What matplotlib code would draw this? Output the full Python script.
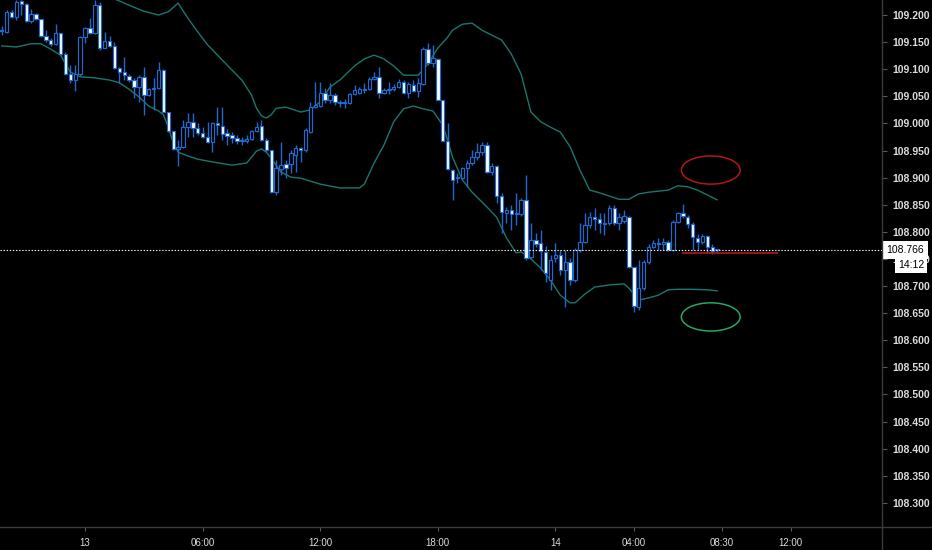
#! /usr/bin/env python3
# -*- Coding: UTF-8 -*-

import numpy as np
import matplotlib.pyplot as plt
import matplotlib.transforms as mtransforms
from matplotlib.patches import Ellipse
from matplotlib.lines import Line2D

plt.rcParams["font.family"] = ["Liberation Sans", "DejaVu Sans"]

# 15 minute bars, x = bar number counted from 13th 00:00 (4 bars per hour)
first_bar = -17

opens = [
    109.172, 109.169, 109.206, 109.196, 109.226, 109.220, 109.189, 109.202, 109.193, 109.161,
    109.154, 109.147, 109.167, 109.128, 109.091, 109.080, 109.091, 109.159, 109.176, 109.167,
    109.218, 109.139, 109.152, 109.143, 109.102, 109.095, 109.087, 109.080, 109.067, 109.086,
    109.052, 109.063, 109.065, 109.099, 109.021, 108.986, 108.953, 108.957, 108.993, 109.003,
    108.992, 108.982, 108.975, 108.966, 109.001, 108.995, 108.982, 108.979, 108.973, 108.968,
    108.968, 108.971, 108.986, 108.995, 108.969, 108.951, 108.873, 108.916, 108.925, 108.925,
    108.942, 108.955, 108.951, 108.984, 109.030, 109.032, 109.056, 109.043, 109.052, 109.038,
    109.037, 109.038, 109.054, 109.056, 109.062, 109.063, 109.082, 109.086, 109.056, 109.062,
    109.063, 109.067, 109.076, 109.056, 109.071, 109.060, 109.073, 109.137, 109.111, 109.119,
    109.043, 108.968, 108.914, 108.899, 108.899, 108.918, 108.927, 108.938, 108.947, 108.960,
    108.910, 108.921, 108.866, 108.835, 108.840, 108.833, 108.833, 108.859, 108.754, 108.785,
    108.779, 108.763, 108.711, 108.752, 108.757, 108.730, 108.744, 108.711, 108.766, 108.781,
    108.813, 108.827, 108.824, 108.815, 108.816, 108.844, 108.816, 108.820, 108.827, 108.735,
    108.661, 108.696, 108.744, 108.772, 108.779, 108.778, 108.781, 108.766, 108.818, 108.835,
    108.827, 108.814, 108.789, 108.781, 108.792, 108.772, 108.768,
]
highs = [
    109.180, 109.209, 109.209, 109.228, 109.228, 109.222, 109.211, 109.204, 109.193, 109.172,
    109.158, 109.183, 109.167, 109.132, 109.108, 109.108, 109.161, 109.178, 109.194, 109.228,
    109.224, 109.169, 109.161, 109.150, 109.104, 109.123, 109.091, 109.084, 109.089, 109.104,
    109.065, 109.084, 109.113, 109.100, 109.021, 108.986, 108.969, 109.006, 109.019, 109.019,
    109.001, 108.993, 109.003, 109.003, 109.030, 109.030, 108.990, 108.984, 108.979, 108.975,
    108.979, 108.988, 109.003, 109.006, 108.973, 108.951, 108.933, 108.966, 108.933, 108.951,
    108.960, 108.957, 108.992, 109.039, 109.076, 109.076, 109.065, 109.075, 109.056, 109.043,
    109.045, 109.056, 109.071, 109.067, 109.075, 109.086, 109.095, 109.104, 109.065, 109.076,
    109.073, 109.082, 109.080, 109.076, 109.080, 109.084, 109.141, 109.148, 109.145, 109.121,
    109.043, 109.001, 108.916, 108.909, 108.920, 108.933, 108.951, 108.964, 108.966, 108.966,
    108.927, 108.923, 108.872, 108.846, 108.849, 108.872, 108.862, 108.905, 108.816, 108.798,
    108.803, 108.774, 108.757, 108.779, 108.766, 108.766, 108.752, 108.770, 108.816, 108.835,
    108.837, 108.844, 108.835, 108.835, 108.849, 108.849, 108.835, 108.840, 108.829, 108.735,
    108.748, 108.748, 108.778, 108.785, 108.789, 108.789, 108.785, 108.822, 108.837, 108.851,
    108.831, 108.818, 108.796, 108.796, 108.794, 108.778, 108.768,
]
lows = [
    109.163, 109.167, 109.194, 109.191, 109.200, 109.187, 109.185, 109.191, 109.159, 109.150,
    109.143, 109.145, 109.126, 109.089, 109.075, 109.060, 109.087, 109.148, 109.165, 109.165,
    109.135, 109.139, 109.141, 109.100, 109.075, 109.080, 109.076, 109.047, 109.039, 109.016,
    109.051, 109.025, 109.063, 109.021, 108.984, 108.951, 108.921, 108.955, 108.975, 108.975,
    108.979, 108.973, 108.964, 108.947, 108.979, 108.969, 108.960, 108.964, 108.962, 108.960,
    108.964, 108.969, 108.984, 108.968, 108.947, 108.872, 108.868, 108.905, 108.899, 108.909,
    108.910, 108.929, 108.947, 108.982, 109.028, 109.030, 109.038, 109.038, 109.034, 109.030,
    109.028, 109.036, 109.052, 109.054, 109.056, 109.062, 109.080, 109.047, 109.054, 109.054,
    109.060, 109.065, 109.054, 109.047, 109.058, 109.049, 109.071, 109.108, 109.104, 109.043,
    108.968, 108.914, 108.859, 108.890, 108.896, 108.883, 108.923, 108.933, 108.942, 108.909,
    108.905, 108.853, 108.798, 108.816, 108.803, 108.813, 108.829, 108.748, 108.752, 108.772,
    108.730, 108.707, 108.693, 108.744, 108.720, 108.661, 108.702, 108.707, 108.763, 108.779,
    108.807, 108.803, 108.798, 108.794, 108.813, 108.813, 108.803, 108.816, 108.733, 108.652,
    108.656, 108.693, 108.741, 108.770, 108.766, 108.766, 108.765, 108.765, 108.816, 108.826,
    108.807, 108.766, 108.766, 108.778, 108.761, 108.759, 108.763,
]
closes = [
    109.171, 109.206, 109.196, 109.224, 109.220, 109.189, 109.202, 109.193, 109.161, 109.154,
    109.147, 109.167, 109.128, 109.091, 109.080, 109.091, 109.159, 109.176, 109.167, 109.218,
    109.139, 109.152, 109.143, 109.102, 109.095, 109.089, 109.080, 109.067, 109.086, 109.052,
    109.063, 109.065, 109.099, 109.021, 108.986, 108.953, 108.957, 108.993, 109.003, 108.992,
    108.982, 108.975, 108.966, 109.001, 108.997, 108.980, 108.977, 108.973, 108.968, 108.969,
    108.971, 108.986, 108.993, 108.969, 108.951, 108.873, 108.918, 108.923, 108.918, 108.945,
    108.955, 108.951, 108.988, 109.030, 109.034, 109.056, 109.043, 109.052, 109.039, 109.040,
    109.040, 109.054, 109.062, 109.063, 109.063, 109.082, 109.086, 109.056, 109.062, 109.063,
    109.067, 109.076, 109.056, 109.073, 109.060, 109.075, 109.137, 109.111, 109.121, 109.043,
    108.968, 108.916, 108.896, 108.901, 108.918, 108.927, 108.938, 108.947, 108.960, 108.910,
    108.921, 108.866, 108.837, 108.840, 108.833, 108.835, 108.859, 108.752, 108.785, 108.778,
    108.765, 108.724, 108.748, 108.757, 108.730, 108.744, 108.711, 108.766, 108.781, 108.813,
    108.827, 108.824, 108.816, 108.817, 108.844, 108.816, 108.827, 108.829, 108.735, 108.663,
    108.696, 108.744, 108.772, 108.779, 108.778, 108.781, 108.766, 108.818, 108.835, 108.829,
    108.814, 108.790, 108.781, 108.792, 108.772, 108.765, 108.766,
]

# bollinger bands (bar number, price)
upper_bar = [-17, -12, -8, -4, 0, 4, 7, 9, 12, 15, 17, 19, 21, 23, 25, 28, 32, 34, 35, 36,
             37, 38, 39, 41, 44, 46, 48, 50, 52, 55, 57, 59, 61, 63, 65, 68, 70, 72, 74, 75,
             77, 79, 81, 83, 85, 87, 89, 90, 91, 93, 95, 97, 99, 101, 103, 105, 107, 109, 111,
             113, 115, 117, 119, 121, 123, 125, 127, 129]
upper_val = [109.276, 109.272, 109.268, 109.261, 109.250, 109.237, 109.226, 109.218, 109.207,
             109.200, 109.206, 109.222, 109.194, 109.169, 109.145, 109.117, 109.080, 109.052,
             109.028, 109.014, 109.010, 109.016, 109.028, 109.030, 109.021, 109.025, 109.040,
             109.067, 109.080, 109.106, 109.119, 109.126, 109.119, 109.106, 109.089, 109.089,
             109.110, 109.139, 109.159, 109.172, 109.183, 109.185, 109.172, 109.163, 109.154,
             109.128, 109.091, 109.056, 109.021, 109.003, 108.993, 108.984, 108.957, 108.914,
             108.877, 108.872, 108.866, 108.860, 108.860, 108.870, 108.873, 108.875, 108.877,
             108.885, 108.883, 108.877, 108.868, 108.859]
lower_bar = [-17, -14, -11, -9, -7, -5, -3, -1, 2, 5, 7, 9, 11, 13, 15, 16, 17, 18, 19, 21,
             23, 26, 30, 33, 35, 36, 37, 38, 40, 42, 44, 48, 52, 56, 57, 59, 61, 63, 65, 67,
             69, 71, 73, 74, 75, 77, 79, 82, 84, 86, 88, 89, 91, 93, 95, 97, 99, 100, 102, 104,
             107, 110, 111, 113, 115, 117, 119, 121, 124, 127, 129]
lower_val = [109.143, 109.141, 109.147, 109.147, 109.137, 109.126, 109.095, 109.086, 109.084,
             109.080, 109.075, 109.063, 109.049, 109.032, 109.023, 109.016, 108.993, 108.964,
             108.947, 108.940, 108.934, 108.929, 108.923, 108.927, 108.949, 108.953, 108.947,
             108.936, 108.910, 108.901, 108.899, 108.888, 108.881, 108.881, 108.888, 108.927,
             108.960, 109.003, 109.027, 109.032, 109.027, 109.023, 108.997, 108.969, 108.938,
             108.896, 108.873, 108.846, 108.827, 108.789, 108.761, 108.763, 108.750, 108.733,
             108.711, 108.683, 108.669, 108.669, 108.685, 108.698, 108.702, 108.704, 108.696,
             108.674, 108.678, 108.683, 108.693, 108.694, 108.694, 108.693, 108.691]

tick_hours = [0, 6, 12, 18, 24, 28, 32.5, 36]
tick_labels = ["13", "06:00", "12:00", "18:00", "14", "04:00", "08:30", "12:00"]
price_ticks = np.arange(108.30, 109.2001, 0.05)
countdown = "14:12"

# drawn marks: red line + two ellipses (bar, price)
mark_price = 108.761
mark_span = (121.8, 141.4)
ell_center_bar = 127.7
ell_top_price = 108.914
ell_bottom_price = 108.643

bg = "black"
wick_col = "#1f6ad1"
band_col = "#18786e"
axis_col = "#3a3a3a"
text_col = "#dcdcdc"

o = np.array(opens)
h = np.array(highs)
l = np.array(lows)
c = np.array(closes)
x = np.arange(first_bar, first_bar + len(c))

fig = plt.figure(figsize=(9.32, 5.5), dpi=100, facecolor=bg)
ax = fig.add_axes([0, 23 / 550, 882 / 932, 527 / 550])
ax.set_facecolor(bg)

ax.plot(upper_bar, upper_val, color=band_col, lw=1.0, zorder=1)
ax.plot(lower_bar, lower_val, color=band_col, lw=1.0, zorder=1)

ax.vlines(x, l, h, color=wick_col, lw=1.0, zorder=2)
body_lo = np.minimum(o, c)
body_h = np.maximum(np.abs(c - o), 0.0012)
face = np.where(c < o, "white", bg)
ax.bar(x, body_h, bottom=body_lo, width=0.7, color=face, edgecolor=wick_col,
       linewidth=0.85, zorder=3)

last = c[-1]
ax.axhline(last, color="white", lw=0.8, linestyle=(0, (1.2, 1.6)), zorder=4)

ax.hlines(mark_price, mark_span[0], mark_span[1], color="#b3161b", lw=1.2, zorder=4)
ax.add_patch(Ellipse((ell_center_bar, ell_top_price), 12.0, 0.052, fill=False,
                     ec="#b3161b", lw=1.1, zorder=4))
ax.add_patch(Ellipse((ell_center_bar, ell_bottom_price), 12.0, 0.052, fill=False,
                     ec="#22a862", lw=1.1, zorder=4))

ax.set_xlim(-17.35, 162.65)
ax.set_ylim(108.2554, 109.2277)

for s in ax.spines.values():
    s.set_visible(False)
fig.add_artist(Line2D([882 / 932, 882 / 932], [0, 1], color=axis_col, lw=1.0))
fig.add_artist(Line2D([0, 1], [23 / 550, 23 / 550], color=axis_col, lw=1.0))

ax.yaxis.tick_right()
ax.set_yticks(price_ticks)
ax.set_yticklabels(["%.3f" % v for v in price_ticks], fontweight="bold")
ax.tick_params(axis="y", colors="#5a5a5a", labelcolor=text_col, length=3.5,
               width=0.8, pad=4, labelsize=7.5)
ax.set_xticks([hh * 4 for hh in tick_hours])
ax.set_xticklabels(tick_labels)
ax.tick_params(axis="x", colors="#5a5a5a", labelcolor=text_col, length=3,
               width=0.8, pad=5, labelsize=7)

trans = mtransforms.blended_transform_factory(ax.transAxes, ax.transData)
ax.text(1.0051, last, "%.3f" % last, transform=trans, ha="left", va="center",
        fontsize=7.5, color="black", clip_on=False, zorder=10,
        bbox=dict(boxstyle="square,pad=0.4", fc="white", ec="none"))
ax.text(1.0329, last - 0.0265, countdown, transform=trans, ha="center", va="center",
        fontsize=7.5, color="black", clip_on=False, zorder=10,
        bbox=dict(boxstyle="square,pad=0.3", fc="white", ec="none"))

fig.savefig("out.png", dpi=100, facecolor=bg)
